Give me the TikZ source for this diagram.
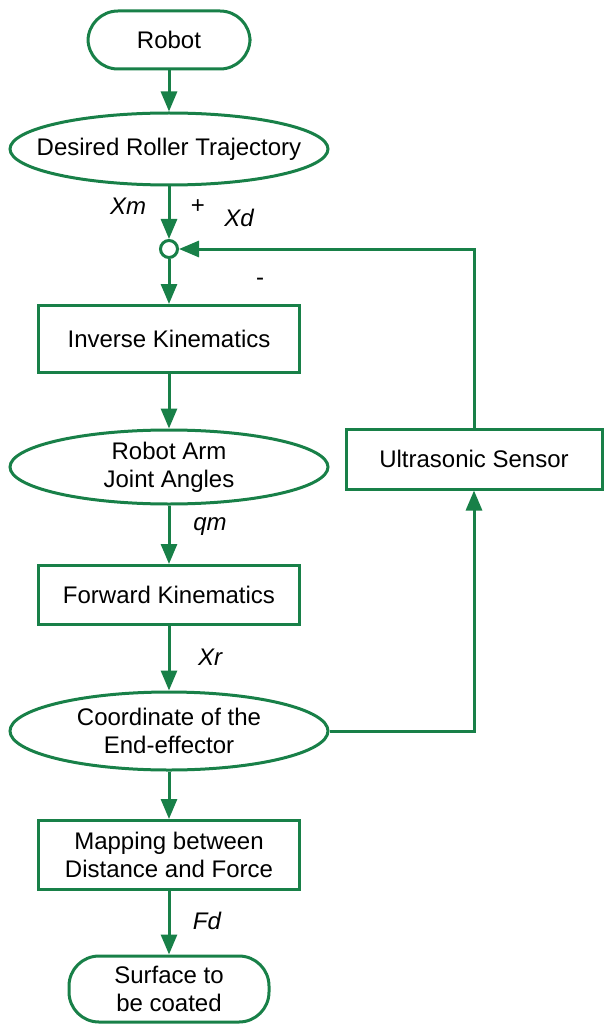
\documentclass[tikz,border=0pt]{standalone}
\usepackage{fontspec}
\setmainfont{Liberation Sans}
\usetikzlibrary{shapes.geometric,arrows.meta}
\definecolor{fg}{RGB}{24,128,72}
\tikzset{
  base/.style={draw=fg, line width=3pt, text=black, font=\fontsize{24}{28}\selectfont, align=center, inner sep=0pt},
  stadium/.style={base, rectangle, rounded corners=30pt},
  oval/.style={draw=fg, line width=3pt, ellipse, inner sep=0pt},
  ovaltext/.style={text=black, font=\fontsize{24}{28}\selectfont, align=center, inner sep=0pt},
  box/.style={base, rectangle},
  sumpt/.style={draw=fg, line width=3pt, circle, minimum size=17pt, inner sep=0pt},
  flow/.style={draw=fg, line width=3pt, -{Triangle[length=20pt,width=16pt]}},
  lab/.style={font=\fontsize{24}{28}\selectfont\itshape, inner sep=0pt}
}
\begin{document}
\begin{tikzpicture}[x=1pt,y=-1pt]
\useasboundingbox (0,0) rectangle (606,1024);
\node[stadium, minimum width=162pt, minimum height=58pt] (robot) at (169,40) {Robot};
\node[oval, minimum width=318pt, minimum height=72pt] (desired) at (169,149) {};
\node[ovaltext] (desiredT) at (desired.center) {Desired Roller Trajectory};
\node[sumpt] (sum) at (169,249) {};
\node[box, minimum width=261pt, minimum height=67pt] (ik) at (169,339) {Inverse Kinematics};
\node[oval, minimum width=318pt, minimum height=74pt] (joint) at (169,467) {};
\node[ovaltext] (jointT) at (joint.center) {Robot Arm\\Joint Angles};
\node[box, minimum width=256pt, minimum height=60pt] (sensor) at (474,459) {Ultrasonic Sensor};
\node[box, minimum width=261pt, minimum height=59pt] (fk) at (169,595) {Forward Kinematics};
\node[oval, minimum width=318pt, minimum height=78pt] (coord) at (169,731) {};
\node[ovaltext] (coordT) at (coord.center) {Coordinate of the\\End-effector};
\node[box, minimum width=261pt, minimum height=69pt] (map) at (169,855) {Mapping between\\Distance and Force};
\node[stadium, minimum width=200pt, minimum height=66pt] (surf) at (169,989) {Surface to\\be coated};

\node[lab] (xm) at (128,206) {Xm};
\node[lab, font=\fontsize{24}{28}\selectfont] (plus) at (198,207) {+};
\node[lab] (xd) at (239,218) {Xd};
\node[lab, font=\fontsize{24}{28}\selectfont] (minus) at (260,282) {-};
\node[lab] (qm) at (210,527) {qm};
\node[lab] (xr) at (210,657) {Xr};
\node[lab] (fd) at (207,921) {Fd};

\draw[flow] (robot) -- (desired);
\draw[flow] (desired) -- (sum);
\draw[flow] (sum) -- (ik);
\draw[flow] (ik) -- (joint);
\draw[flow] (joint) -- (fk);
\draw[flow] (fk) -- (coord);
\draw[flow] (coord) -- (map);
\draw[flow] (map) -- (surf);
\draw[flow] (coord.east) -| (sensor.south);
\draw[flow] (sensor.north) |- (sum.east);
\end{tikzpicture}
\end{document}
